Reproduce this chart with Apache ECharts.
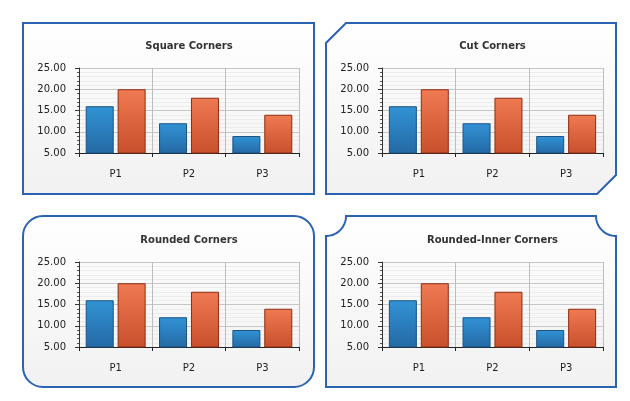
<!DOCTYPE html>
<html><head><meta charset="utf-8">
<script src="https://cdn.jsdelivr.net/npm/echarts@6/dist/echarts.min.js"></script>
<style>html,body{margin:0;padding:0;background:#fff}#c{width:630px;height:401px}</style>
</head><body><div id="c"></div>
<script>
var categories = ['P1', 'P2', 'P3'];
var seriesA = [16, 12, 9];
var seriesB = [20, 18, 14];
var titles = ['Square Corners', 'Cut Corners', 'Rounded Corners', 'Rounded-Inner Corners'];
var yTicks = [5, 10, 15, 20, 25];

var grids = [
  {left: 79, top: 68, width: 220, height: 85},
  {left: 382, top: 68, width: 221, height: 85},
  {left: 79, top: 262, width: 220, height: 85},
  {left: 382, top: 262, width: 221, height: 85}
];
var font = 'DejaVu Sans';
var borderColor = '#2b63b2';
var bgFill = {type: 'linear', x: 0, y: 0, x2: 0, y2: 1, colorStops: [{offset: 0, color: '#ffffff'}, {offset: 1, color: '#f1f1f1'}]};
var blueFill = {type: 'linear', x: 0, y: 0, x2: 0, y2: 1, colorStops: [{offset: 0, color: '#3193d6'}, {offset: 1, color: '#2469a4'}]};
var orangeFill = {type: 'linear', x: 0, y: 0, x2: 0, y2: 1, colorStops: [{offset: 0, color: '#f07a52'}, {offset: 1, color: '#c8502c'}]};

var xAxes = [], yAxes = [], series = [], titleArr = [];
grids.forEach(function (g, i) {
  titleArr.push({
    text: titles[i], left: g.left + g.width / 2, top: g.top - 27, textAlign: 'center', padding: 0,
    textStyle: {fontFamily: font, fontSize: 10, fontWeight: 'bold', color: '#333'}
  });
  xAxes.push({
    type: 'category', gridIndex: i, data: categories,
    axisLine: {lineStyle: {color: '#222', width: 1}},
    axisTick: {show: true, length: 4, lineStyle: {color: '#222'}},
    axisLabel: {margin: 16, fontFamily: font, fontSize: 10, color: '#222'},
    splitLine: {show: true, lineStyle: {color: '#bdbdbd', width: 1}}
  });
  yAxes.push({
    type: 'value', gridIndex: i, min: yTicks[0], max: yTicks[yTicks.length - 1], interval: 5,
    axisLine: {show: true, lineStyle: {color: '#333'}},
    axisTick: {show: true, length: 4, lineStyle: {color: '#333'}},
    minorTick: {show: true, splitNumber: 5, length: 2, lineStyle: {color: '#555'}},
    minorSplitLine: {show: true, lineStyle: {color: '#ececec'}},
    splitLine: {show: true, lineStyle: {color: '#c6c6c6'}},
    axisLabel: {margin: 13, fontFamily: font, fontSize: 10, color: '#222', formatter: function (v) { return v.toFixed(2); }}
  });
  series.push({
    type: 'bar', xAxisIndex: i, yAxisIndex: i, data: seriesA, barWidth: 28, barGap: '14%',
    itemStyle: {color: blueFill, borderColor: '#1b5282', borderWidth: 1}
  });
  series.push({
    type: 'bar', xAxisIndex: i, yAxisIndex: i, data: seriesB, barWidth: 28, barGap: '14%',
    itemStyle: {color: orangeFill, borderColor: '#8c2d12', borderWidth: 1}
  });
});

// concave corner outline for the rounded-inner panel
function arcPts(cx, cy, r, a0, a1, n) {
  var pts = [];
  for (var k = 0; k <= n; k++) {
    var a = a0 + (a1 - a0) * k / n;
    pts.push([cx + r * Math.cos(a), cy + r * Math.sin(a)]);
  }
  return pts;
}
var innerPts = [].concat(
  arcPts(326, 216, 20, Math.PI / 2, 0, 24),
  arcPts(616, 216, 20, Math.PI, Math.PI / 2, 24),
  [[616, 387], [326, 387]]
);

var panelStyle = {fill: bgFill, stroke: borderColor, lineWidth: 2};
var graphic = [
  {type: 'rect', z: -10, shape: {x: 23, y: 23, width: 291, height: 171}, style: panelStyle},
  {type: 'polygon', z: -10, shape: {points: [[346, 23], [616, 23], [616, 175], [597, 194], [326, 194], [326, 43]]}, style: panelStyle},
  {type: 'rect', z: -10, shape: {x: 23, y: 216, width: 291, height: 171, r: 20}, style: panelStyle},
  {type: 'polygon', z: -10, shape: {points: innerPts}, style: panelStyle}
];

var chart = echarts.init(document.getElementById('c'), null, {renderer: 'canvas'});
chart.setOption({
  animation: false,
  backgroundColor: '#ffffff',
  title: titleArr,
  grid: grids,
  xAxis: xAxes,
  yAxis: yAxes,
  series: series,
  graphic: graphic
});
</script></body></html>
